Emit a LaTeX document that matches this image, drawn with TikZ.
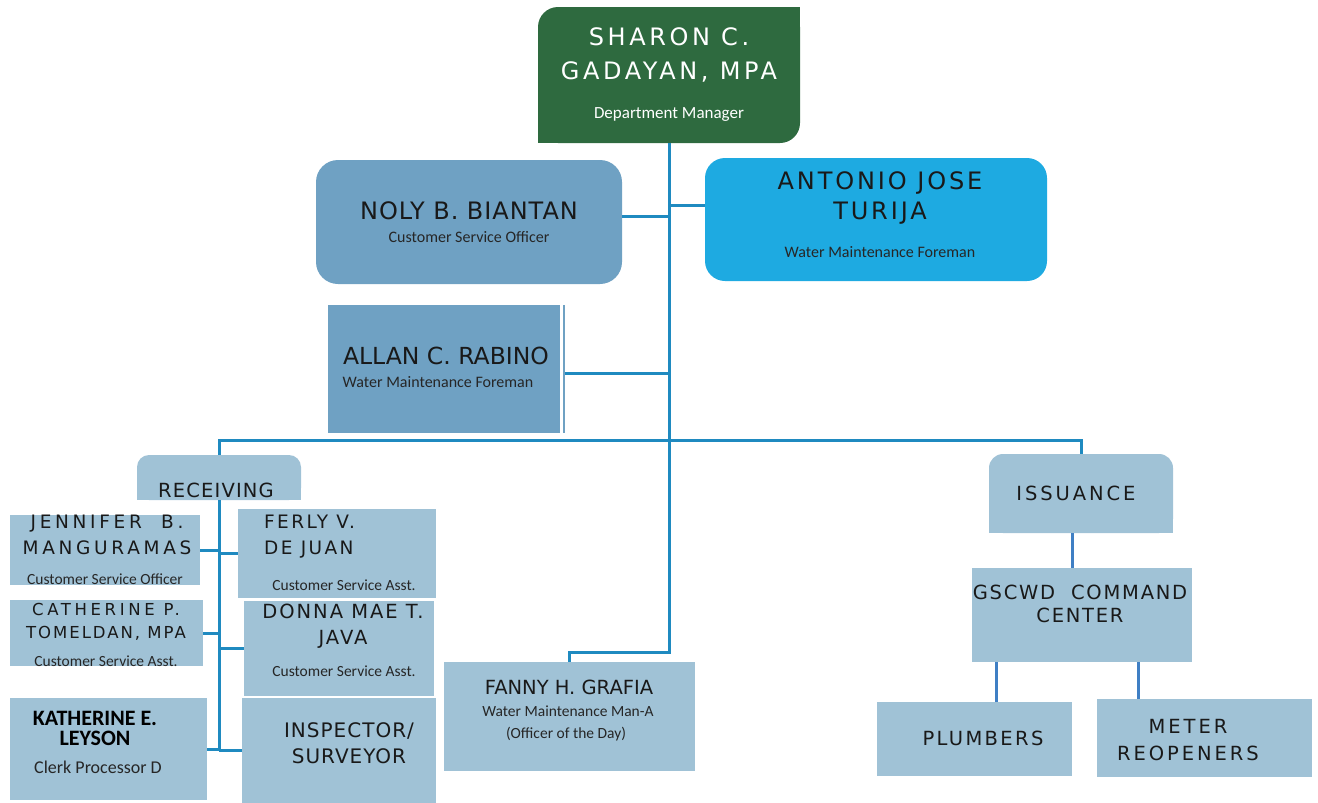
\documentclass[tikz,border=0pt]{standalone}
\usepackage{fontspec}
\setmainfont{Carlito}
\newfontfamily\namefont{DejaVu Sans}
\definecolor{mgrgreen}{HTML}{2E6A3F}
\definecolor{headblue}{HTML}{6FA1C3}
\definecolor{foreman}{HTML}{1EAAE1}
\definecolor{unitblue}{HTML}{A0C2D6}
\definecolor{linkblue}{HTML}{1F8AC0}
\definecolor{cmdlink}{HTML}{3F7FC4}

\begin{document}
\begin{tikzpicture}[x=1pt, y=-1pt,
    box/.style={rectangle, inner sep=0pt, fill=unitblue},
    link/.style={draw=linkblue, line width=3pt},
    nm/.style n args={3}{font=\namefont\fontsize{#1}{#2}\selectfont\addfontfeature{LetterSpace=#3}, align=center, inner sep=0pt, text=black!90},
    rl/.style={font=\fontsize{#1}{#1}\selectfont, inner sep=0pt, text=black!85}]
    \useasboundingbox (0,0) rectangle (1318,803);

    % manager and officers
    \node[box, fill=mgrgreen, rounded corners=20pt, minimum width=262pt, minimum height=136pt] (sharon) at (669,75) {};
    \fill[mgrgreen] (sharon.north east) rectangle ++(-25,25);
    \fill[mgrgreen] (sharon.south west) rectangle ++(25,-25);
    \node[box, fill=headblue, rounded corners=22pt, minimum width=306pt, minimum height=124pt] (noly) at (469,222) {};
    \node[box, fill=foreman, rounded corners=20pt, minimum width=342pt, minimum height=123pt] (antonio) at (876,219.5) {};
    \node[box, fill=headblue, minimum width=232pt, minimum height=128pt] (allan) at (444,369) {};
    \draw[headblue, line width=2.5pt] ([xshift=4pt]allan.north east) -- ([xshift=4pt]allan.south east);

    % units
    \node[box, rounded corners=12pt, minimum width=164pt, minimum height=45pt] (recv) at (219,477.5) {};
    \fill[unitblue] (recv.south west) rectangle (recv.east);
    \node[box, minimum width=190pt, minimum height=70pt] (jen) at (105,550) {};
    \node[box, minimum width=198pt, minimum height=89pt] (ferly) at (337,553.5) {};
    \node[box, minimum width=193pt, minimum height=66pt] (cath) at (106.5,633) {};
    \node[box, minimum width=190pt, minimum height=95pt] (donna) at (339,648.5) {};
    \node[box, minimum width=197pt, minimum height=102pt] (kath) at (108.5,749) {};
    \node[box, minimum width=194pt, minimum height=105pt] (insp) at (339,750.5) {};
    \node[box, minimum width=251pt, minimum height=109pt] (fanny) at (569.5,716.5) {};
    \node[box, rounded corners=14pt, minimum width=184pt, minimum height=79pt] (issue) at (1081,493.5) {};
    \fill[unitblue] (issue.south west) rectangle (issue.east);
    \node[box, minimum width=220pt, minimum height=94pt] (gscwd) at (1082,615) {};
    \node[box, minimum width=195pt, minimum height=74pt] (plumb) at (974.5,739) {};
    \node[box, minimum width=215pt, minimum height=78pt] (meter) at (1204.5,738) {};

    % connectors
    \coordinate (split) at (669,440);
    \coordinate (bend) at (669,652);
    \draw[link] (sharon.south) -- (bend) -| (fanny.north);
    \draw[link] ([yshift=6pt]noly.east) -- ([yshift=6pt]noly.east -| sharon.south);
    \draw[link] ([yshift=14pt]antonio.west) -- ([yshift=14pt]antonio.west -| sharon.south);
    \draw[link] ([xshift=5pt,yshift=-4pt]allan.east) -- ([yshift=-4pt]allan.east -| sharon.south);
    \draw[link] (recv.north) |- (split) -| (issue.north);
    \draw[link] (recv.south) -- (recv.south |- insp.west);
    \draw[link] (jen.east) -- (jen.east -| recv.south);
    \draw[link] (cath.east) -- (cath.east -| recv.south);
    \draw[link] (kath.east) -- (kath.east -| recv.south);
    \draw[link] (ferly.west) -- (ferly.west -| recv.south);
    \draw[link] (donna.west) -- (donna.west -| recv.south);
    \draw[link] (insp.west) -- (insp.west -| recv.south);
    \draw[link, draw=cmdlink] ([xshift=-9pt]issue.south) -- ([xshift=-9pt]issue.south |- gscwd.north);
    \draw[link, draw=cmdlink] ([xshift=22pt]plumb.north) -- ([xshift=22pt]plumb.north |- gscwd.south);
    \draw[link, draw=cmdlink] ([xshift=-66pt]meter.north) -- ([xshift=-66pt]meter.north |- gscwd.south);

    % texts
    \node[nm={24}{34}{15}, text=white] (sharonname) at (669,55) {SHARON C.\\GADAYAN, MPA};
    \node[rl=17, text=white] (sharonrole) at (669,115) {Department Manager};
    \node[nm={24}{24}{4}] (nolyname) at (469,211) {NOLY B. BIANTAN};
    \node[rl=16] (nolyrole) at (469,237) {Customer Service Officer};
    \node[nm={24}{30}{12}] (antonioname) at (880,198) {ANTONIO JOSE\\TURIJA};
    \node[rl=16] (antoniorole) at (880,252) {Water Maintenance Foreman};
    \node[nm={23.5}{23}{0}] (allanname) at (446,356) {ALLAN C. RABINO};
    \node[rl=16] (allanrole) at (438,382) {Water Maintenance Foreman};
    \node[nm={19.5}{19}{6}] (recvname) at (216,490) {RECEIVING};
    \node[nm={18.5}{26}{20}] (jenname) at (107,535) {JENNIFER \ B.\\MANGURAMAS};
    \node[rl=15.5] (jenrole) at (105,579) {Customer Service Officer};
    \node[nm={18.5}{26}{13}, align=left, anchor=west] (ferlyname) at (264,537) {FERLY V.\\DE JUAN};
    \node[rl=15.5] (ferlyrole) at (344,585) {Customer Service Asst.};
    \node[nm={16.5}{23}{12}] (cathname) at (106,622) {{\addfontfeature{LetterSpace=22}CATHERINE P.}\\TOMELDAN, MPA};
    \node[rl=15.5] (cathrole) at (106,661) {Customer Service Asst.};
    \node[nm={19.5}{26}{10}] (donnaname) at (343,626) {DONNA MAE T.\\JAVA};
    \node[rl=15.5] (donnarole) at (344,671) {Customer Service Asst.};
    \node[inner sep=0pt, align=center, font=\bfseries\fontsize{22}{20}\selectfont] (kathname) at (95,728) {KATHERINE E.\\LEYSON};
    \node[rl=18] (kathrole) at (98,767) {Clerk Processor D};
    \node[nm={20}{26}{5}] (inspname) at (349,743) {INSPECTOR/\\SURVEYOR};
    \node[nm={19.5}{19}{0}] (fannyname) at (569,687) {FANNY H. GRAFIA};
    \node[rl=15.5] (fannyrole) at (568,711) {Water Maintenance Man-A};
    \node[rl=15.5] (fannyduty) at (566,734) {(Officer of the Day)};
    \node[nm={19.5}{19}{15}] (issuename) at (1076,493) {ISSUANCE};
    \node[nm={19.5}{23}{9}] (gscwdname) at (1080,604) {GSCWD \ COMMAND\\CENTER};
    \node[nm={19.5}{19.5}{12}] (plumbname) at (983,738) {PLUMBERS};
    \node[nm={19.5}{27}{15}] (metername) at (1188,740) {METER\\REOPENERS};
\end{tikzpicture}
\end{document}
